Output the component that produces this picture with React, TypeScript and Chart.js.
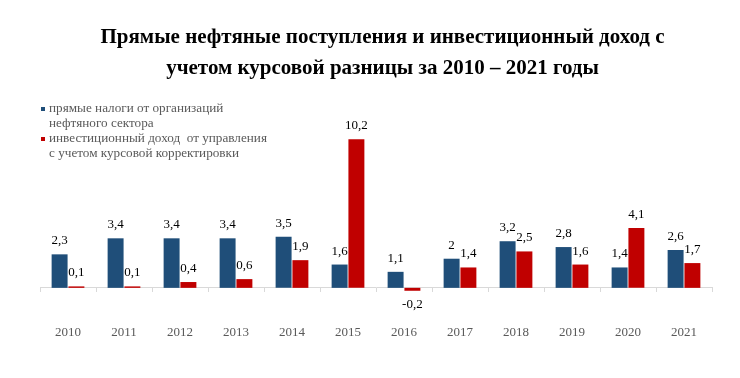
import React, { useEffect, useRef } from "react";
import { Chart, registerables } from "chart.js";

Chart.register(...registerables);

const years = ["2010", "2011", "2012", "2013", "2014", "2015", "2016", "2017", "2018", "2019", "2020", "2021"];
const directTaxes = [2.3, 3.4, 3.4, 3.4, 3.5, 1.6, 1.1, 2, 3.2, 2.8, 1.4, 2.6];
const investmentIncome = [0.1, 0.1, 0.4, 0.6, 1.9, 10.2, -0.2, 1.4, 2.5, 1.6, 4.1, 1.7];
const titleLines = [
  "Прямые нефтяные поступления и инвестиционный доход с",
  "учетом курсовой разницы за 2010 – 2021 годы",
];
const legendItems = [
  { lines: ["прямые налоги от организаций", "нефтяного сектора"], color: "#1F4E79" },
  { lines: ["инвестиционный доход  от управления", "с учетом курсовой корректировки"], color: "#C00000" },
];

const SERIF = '"Liberation Serif", "Times New Roman", serif';

const fmt = (v: number) => String(v).replace(".", ",");

const decorPlugin = {
  id: "decor",
  afterDatasetsDraw(chart: any) {
    const ctx = chart.ctx;
    ctx.save();
    // value labels
    ctx.font = `13px ${SERIF}`;
    ctx.fillStyle = "#000000";
    ctx.textAlign = "center";
    ctx.textBaseline = "alphabetic";
    chart.data.datasets.forEach((ds: any, di: number) => {
      const meta = chart.getDatasetMeta(di);
      meta.data.forEach((bar: any, i: number) => {
        const v = ds.data[i];
        const props = bar.getProps(["x", "y", "base"], true);
        if (v >= 0) {
          ctx.fillText(fmt(v), props.x, Math.min(props.y, props.base) - 10);
        } else {
          ctx.fillText(fmt(v), props.x, Math.max(props.y, props.base) + 17);
        }
      });
    });
    // title
    ctx.font = `bold 21px ${SERIF}`;
    ctx.fillStyle = "#000000";
    ctx.textAlign = "center";
    ctx.fillText(titleLines[0], 374.5, 34.5);
    ctx.fillText(titleLines[1], 374.5, 66);
    // legend
    ctx.font = `13.2px ${SERIF}`;
    ctx.fillStyle = "#595959";
    ctx.textAlign = "left";
    const baselines = [[104, 119], [134, 149]];
    legendItems.forEach((item, k) => {
      ctx.fillStyle = item.color;
      ctx.fillRect(33, baselines[k][0] - 5, 4, 4);
      ctx.fillStyle = "#595959";
      item.lines.forEach((line, j) => {
        ctx.fillText(line, 41, baselines[k][j]);
      });
    });
    ctx.restore();
  },
};

export default function App() {
  const ref = useRef<HTMLCanvasElement>(null);
  useEffect(() => {
    if (!ref.current) return;
    const chart = new Chart(ref.current, {
      type: "bar",
      data: {
        labels: years,
        datasets: [
          {
            label: legendItems[0].lines.join(" "),
            data: directTaxes,
            backgroundColor: "#1F4E79",
            categoryPercentage: 0.6,
            barPercentage: 0.95,
          },
          {
            label: legendItems[1].lines.join(" "),
            data: investmentIncome,
            backgroundColor: "#C00000",
            categoryPercentage: 0.6,
            barPercentage: 0.95,
          },
        ],
      },
      options: {
        animation: false,
        responsive: true,
        maintainAspectRatio: false,
        layout: { padding: { top: 105, bottom: 53, left: 32, right: 20 } },
        plugins: {
          legend: { display: false },
          title: { display: false },
          tooltip: { enabled: false },
        },
        scales: {
          x: {
            position: { y: 0 } as any,
            grid: {
              display: true,
              drawOnChartArea: false,
              drawTicks: true,
              tickLength: 4,
              color: "#d9d9d9",
              offset: true,
            },
            border: { display: true, color: "#d9d9d9", width: 1 },
            ticks: {
              color: "#595959",
              font: { family: SERIF, size: 13 },
              padding: 33,
              maxRotation: 0,
            },
          },
          y: {
            display: false,
            min: -2,
            max: 12,
          },
        },
      },
      plugins: [decorPlugin],
    });
    return () => chart.destroy();
  }, []);
  return (
    <div style={{ position: "relative", width: 724, height: 362 }}>
      <canvas ref={ref} />
    </div>
  );
}
